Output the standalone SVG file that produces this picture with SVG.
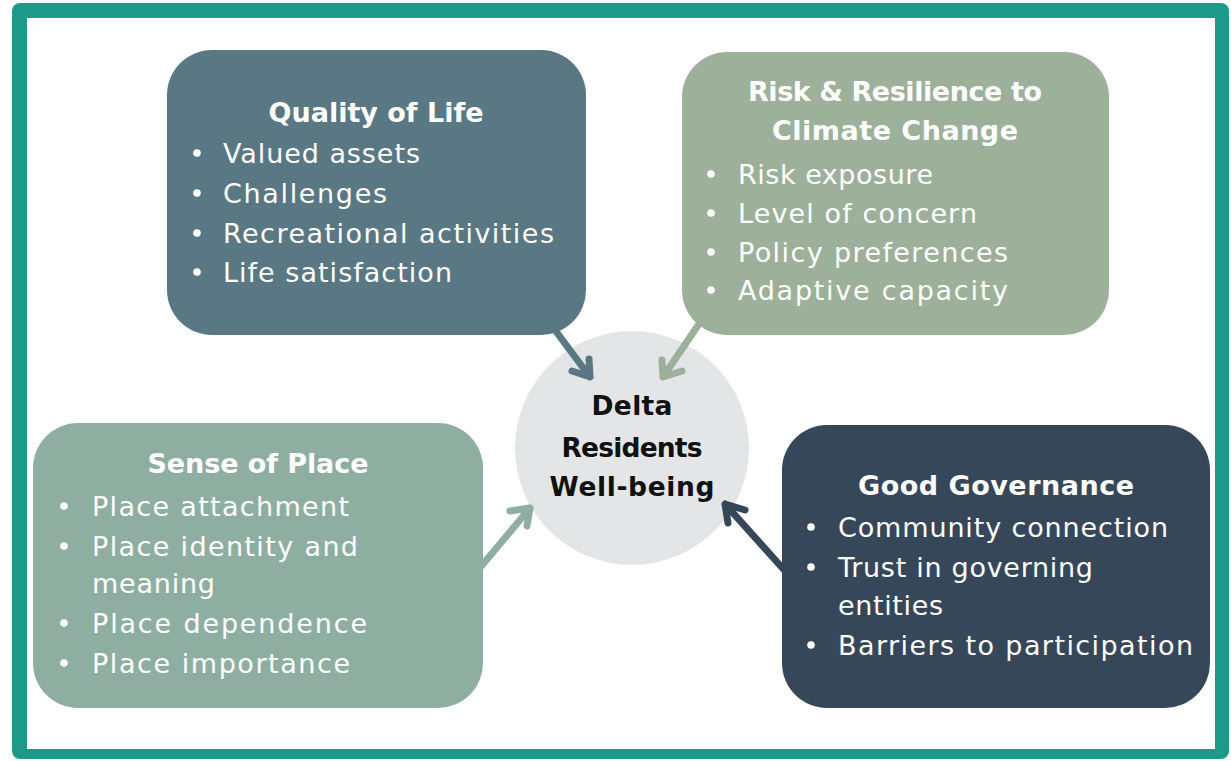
<svg xmlns="http://www.w3.org/2000/svg" width="1231" height="761" viewBox="0 0 1231 761">
<style>
.t{font-family:"DejaVu Sans","Liberation Sans",sans-serif;font-weight:bold;font-size:27px;fill:#ffffff;text-anchor:middle}
.b{font-family:"DejaVu Sans","Liberation Sans",sans-serif;font-size:27px;fill:#ffffff}
.c{font-family:"DejaVu Sans","Liberation Sans",sans-serif;font-weight:bold;font-size:26.5px;fill:#111111;text-anchor:middle}
.dot{fill:#ffffff}
.arr{fill:none;stroke-width:7;stroke-linecap:round;stroke-linejoin:round}
</style>
<rect x="0" y="0" width="1231" height="761" fill="#ffffff"/>
<rect x="12" y="3" width="1217" height="756" rx="8" fill="#1c9988"/>
<rect x="27" y="18" width="1188" height="731" fill="#ffffff"/>

<g id="center">
<circle cx="632" cy="448" r="117" fill="#e4e5e7"/>
<text class="c" x="632" y="415" textLength="81">Delta</text>
<text class="c" x="632" y="457" textLength="141">Residents</text>
<text class="c" x="632" y="496" textLength="165">Well-being</text>
</g>

<g id="connectors">
<path class="arr" stroke="#5a7883" d="M552,326 L590,377 M572,371 L590,377 L589,359"/>
<path class="arr" stroke="#9db09a" d="M703,318 L663,377 M662,360 L663,377 L682,371"/>
<path class="arr" stroke="#8faea2" d="M478,570 L530,508 M510,511 L530,508 L527,526"/>
<path class="arr" stroke="#36475a" d="M786,572 L725,504 M745,510 L725,504 L728,523"/>
</g>

<g id="quality-of-life">
<rect x="167" y="50" width="419" height="285" rx="45" fill="#5a7883"/>
<text class="t" x="376" y="122" textLength="215">Quality of Life</text>
<circle class="dot" cx="197" cy="153" r="3.8"/>
<text class="b" x="223" y="163" textLength="197">Valued assets</text>
<circle class="dot" cx="197" cy="193" r="3.8"/>
<text class="b" x="223" y="203" textLength="164">Challenges</text>
<circle class="dot" cx="197" cy="233" r="3.8"/>
<text class="b" x="223" y="243" textLength="331">Recreational activities</text>
<circle class="dot" cx="197" cy="272" r="3.8"/>
<text class="b" x="223" y="282" textLength="229">Life satisfaction</text>
</g>

<g id="risk-resilience">
<rect x="682" y="52" width="427" height="283" rx="45" fill="#9db09a"/>
<text class="t" x="895" y="101" textLength="294">Risk &amp; Resilience to</text>
<text class="t" x="895" y="140" textLength="246">Climate Change</text>
<circle class="dot" cx="711" cy="174" r="3.8"/>
<text class="b" x="738" y="184" textLength="195">Risk exposure</text>
<circle class="dot" cx="711" cy="213" r="3.8"/>
<text class="b" x="738" y="223" textLength="239">Level of concern</text>
<circle class="dot" cx="711" cy="252" r="3.8"/>
<text class="b" x="738" y="262" textLength="270">Policy preferences</text>
<circle class="dot" cx="711" cy="290" r="3.8"/>
<text class="b" x="738" y="300" textLength="270">Adaptive capacity</text>
</g>

<g id="sense-of-place">
<rect x="33" y="423" width="450" height="285" rx="45" fill="#8faea2"/>
<text class="t" x="258" y="473" textLength="221">Sense of Place</text>
<circle class="dot" cx="64" cy="506" r="3.8"/>
<text class="b" x="92" y="516" textLength="257">Place attachment</text>
<circle class="dot" cx="64" cy="546" r="3.8"/>
<text class="b" x="92" y="556" textLength="266">Place identity and</text>
<text class="b" x="92" y="593" textLength="123">meaning</text>
<circle class="dot" cx="64" cy="623" r="3.8"/>
<text class="b" x="92" y="633" textLength="275">Place dependence</text>
<circle class="dot" cx="64" cy="663" r="3.8"/>
<text class="b" x="92" y="673" textLength="258">Place importance</text>
</g>

<g id="good-governance">
<rect x="782" y="425" width="428" height="283" rx="45" fill="#36475a"/>
<text class="t" x="996" y="495" textLength="276">Good Governance</text>
<circle class="dot" cx="811" cy="527" r="3.8"/>
<text class="b" x="838" y="537" textLength="330">Community connection</text>
<circle class="dot" cx="811" cy="567" r="3.8"/>
<text class="b" x="838" y="577" textLength="255">Trust in governing</text>
<text class="b" x="838" y="615" textLength="105">entities</text>
<circle class="dot" cx="811" cy="645" r="3.8"/>
<text class="b" x="838" y="655" textLength="355">Barriers to participation</text>
</g>
</svg>
